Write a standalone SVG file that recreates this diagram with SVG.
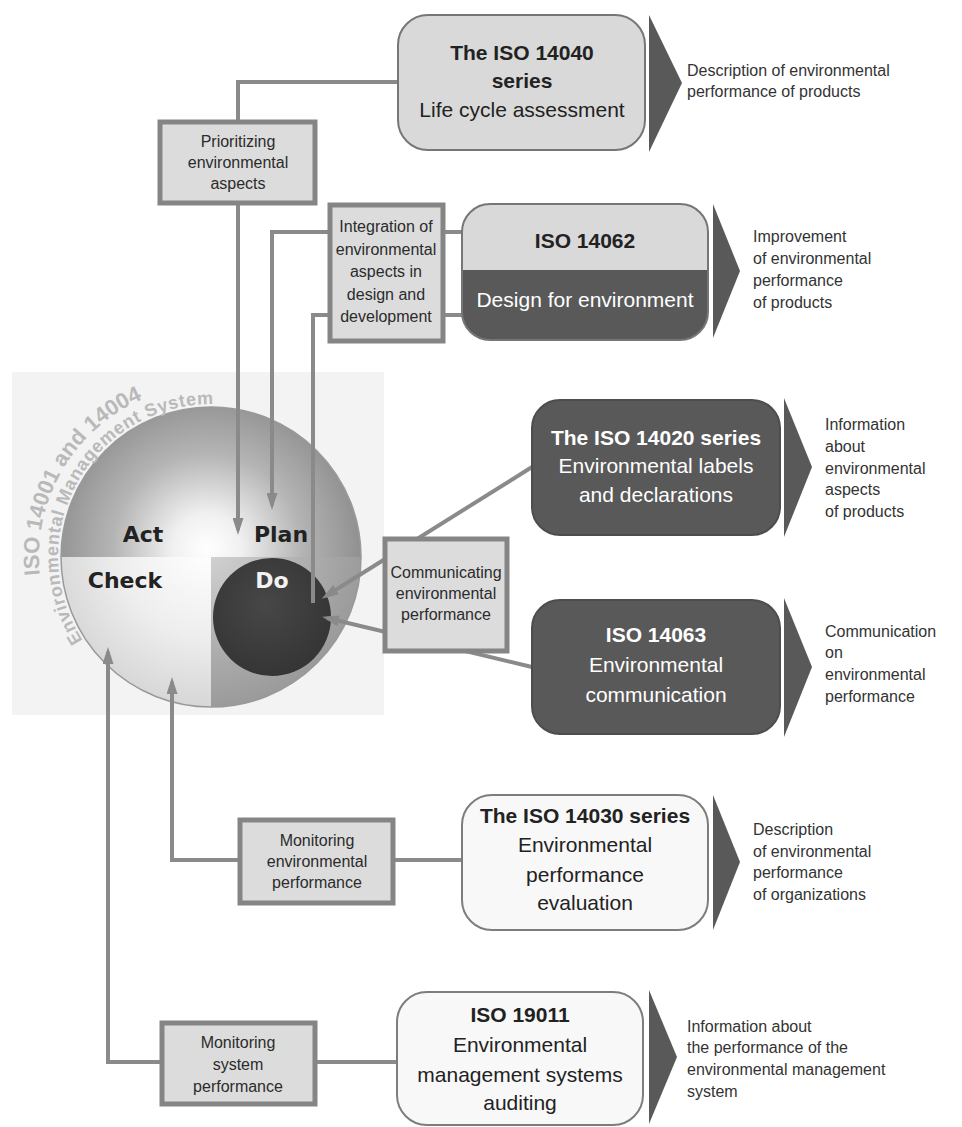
<svg xmlns="http://www.w3.org/2000/svg" width="962" height="1127" viewBox="0 0 962 1127">
<defs>
<style>
.t{font-family:"Liberation Sans",Arial,Helvetica,sans-serif}
.sm{font-size:16px;fill:#2b2b2b;text-anchor:middle}
.big{font-size:21px;fill:#222;text-anchor:middle}
.b{font-weight:bold}
.w{fill:#fff}
.desc{font-size:16px;fill:#333}
.sbox{fill:#dcdcdc;stroke:#858585;stroke-width:5}
.conn{fill:none;stroke:#8a8a8a;stroke-width:4}
.chev{fill:#595959}
.lbox{fill:#d9d9d9;stroke:#767676;stroke-width:2}
.dbox{fill:#595959;stroke:#4d4d4d;stroke-width:2}
.wbox{fill:#f8f8f8;stroke:#7d7d7d;stroke-width:2}
.pdca{font-family:"DejaVu Sans",Verdana,sans-serif;font-weight:bold;font-size:22px;text-anchor:middle}
.arc{font-family:"Liberation Sans",Arial,sans-serif;font-weight:bold;fill:#b9b9b9}
</style>
<marker id="ah" markerUnits="userSpaceOnUse" markerWidth="17" markerHeight="11" refX="12" refY="5.5" orient="auto">
<path d="M0,0 L17,5.5 L0,11 z" fill="#8a8a8a"/>
</marker>
<radialGradient id="gTop" gradientUnits="userSpaceOnUse" cx="207" cy="548" r="158">
<stop offset="0" stop-color="#ffffff"/>
<stop offset="0.22" stop-color="#f0f0f0"/>
<stop offset="0.6" stop-color="#b4b4b4"/>
<stop offset="1" stop-color="#8e8e8e"/>
</radialGradient>
<radialGradient id="gBL" gradientUnits="userSpaceOnUse" cx="207" cy="548" r="160">
<stop offset="0" stop-color="#ffffff"/>
<stop offset="0.55" stop-color="#eeeeee"/>
<stop offset="1" stop-color="#d6d6d6"/>
</radialGradient>
<radialGradient id="gBR" gradientUnits="userSpaceOnUse" cx="207" cy="548" r="160">
<stop offset="0" stop-color="#d4d4d4"/>
<stop offset="0.6" stop-color="#b0b0b0"/>
<stop offset="1" stop-color="#9a9a9a"/>
</radialGradient>
<radialGradient id="gDo" cx="0.45" cy="0.4" r="0.6">
<stop offset="0" stop-color="#474747"/>
<stop offset="1" stop-color="#353535"/>
</radialGradient>
<clipPath id="c62"><rect x="462" y="204" width="246" height="136" rx="28"/></clipPath>
<path id="arcOuter" d="M39.9,575 A172,172 0 0 1 297,408"/>
<path id="arcInner" d="M82.7,640.3 A153,153 0 0 1 287.5,424.5"/>
</defs>

<rect x="0" y="0" width="962" height="1127" fill="#ffffff"/>

<g id="pdca-circle">
<rect x="12" y="372" width="372" height="343" fill="#f3f3f3"/>
<path d="M211,557 L61,557 A150,150 0 0 1 211,407 Z" fill="url(#gTop)"/>
<path d="M211,557 L211,407 A150,150 0 0 1 361,557 Z" fill="url(#gTop)"/>
<path d="M211,557 L211,707 A150,150 0 0 1 61,557 Z" fill="url(#gBL)"/>
<path d="M211,557 L361,557 A150,150 0 0 1 211,707 Z" fill="url(#gBR)"/>
<circle cx="211" cy="557" r="150" fill="none" stroke="#999" stroke-width="1.5"/>
<circle cx="272" cy="617" r="59" fill="url(#gDo)"/>
<text class="pdca" x="143" y="542" fill="#222">Act</text>
<text class="pdca" x="281" y="542" fill="#222">Plan</text>
<text class="pdca" x="125" y="588" fill="#222">Check</text>
<text class="pdca" x="272" y="588" fill="#f2f2f2">Do</text>
<text class="arc" font-size="22"><textPath href="#arcOuter">ISO 14001 and 14004</textPath></text>
<text class="arc" font-size="18" letter-spacing="0.7"><textPath href="#arcInner">Environmental Management System</textPath></text>
</g>

<g id="connectors">
<path class="conn" d="M238,122 V82 H398"/>
<path class="conn" d="M238,203 V530" marker-end="url(#ah)"/>
<path class="conn" d="M330,232 H272 V505" marker-end="url(#ah)"/>
<path class="conn" d="M330,315 H313 V603"/>
<path class="conn" d="M444,232 H462"/>
<path class="conn" d="M444,315 H462"/>
<path class="conn" d="M532,467 L326,596" marker-end="url(#ah)"/>
<path class="conn" d="M532,667 L327,618" marker-end="url(#ah)"/>
<path class="conn" d="M240,860 H172 V682" marker-end="url(#ah)"/>
<path class="conn" d="M393,860 H462"/>
<path class="conn" d="M162,1062 H108 V652" marker-end="url(#ah)"/>
<path class="conn" d="M315,1062 H397"/>
</g>

<g id="prioritizing">
<rect class="sbox" x="160" y="122" width="155" height="81"/>
<text class="t sm" x="238" y="147">Prioritizing</text>
<text class="t sm" x="238" y="168">environmental</text>
<text class="t sm" x="238" y="189">aspects</text>
</g>

<g id="integration">
<rect class="sbox" x="330" y="205" width="113" height="136"/>
<text class="t sm" x="386" y="232" font-size="15.5">Integration of</text>
<text class="t sm" x="386" y="255" font-size="15.5">environmental</text>
<text class="t sm" x="386" y="277" font-size="15.5">aspects in</text>
<text class="t sm" x="386" y="300" font-size="15.5">design and</text>
<text class="t sm" x="386" y="322" font-size="15.5">development</text>
</g>

<g id="communicating">
<rect class="sbox" x="385" y="539" width="122" height="112"/>
<text class="t sm" x="446" y="578">Communicating</text>
<text class="t sm" x="446" y="599">environmental</text>
<text class="t sm" x="446" y="620">performance</text>
</g>

<g id="monitoring-env">
<rect class="sbox" x="240" y="820" width="153" height="83"/>
<text class="t sm" x="317" y="846">Monitoring</text>
<text class="t sm" x="317" y="867">environmental</text>
<text class="t sm" x="317" y="888">performance</text>
</g>

<g id="monitoring-sys">
<rect class="sbox" x="162" y="1023" width="153" height="81"/>
<text class="t sm" x="238" y="1048">Monitoring</text>
<text class="t sm" x="238" y="1070">system</text>
<text class="t sm" x="238" y="1092">performance</text>
</g>

<g id="iso14040">
<rect class="lbox" x="398" y="15" width="247" height="135" rx="30"/>
<text class="t big b" x="522" y="60">The ISO 14040</text>
<text class="t big b" x="522" y="88">series</text>
<text class="t big" x="522" y="117">Life cycle assessment</text>
<polygon class="chev" points="649,15 682,83 649,152"/>
<text class="t desc" x="687" y="76">Description of environmental</text>
<text class="t desc" x="687" y="97">performance of products</text>
</g>

<g id="iso14062">
<g clip-path="url(#c62)">
<rect x="462" y="204" width="246" height="66" fill="#d9d9d9"/>
<rect x="462" y="270" width="246" height="70" fill="#595959"/>
</g>
<rect x="462" y="204" width="246" height="136" rx="28" fill="none" stroke="#767676" stroke-width="2"/>
<text class="t big b" x="585" y="248">ISO 14062</text>
<text class="t big w" x="585" y="307">Design for environment</text>
<polygon class="chev" points="713,204 740,271 713,338"/>
<text class="t desc" x="753" y="242">Improvement</text>
<text class="t desc" x="753" y="264">of environmental</text>
<text class="t desc" x="753" y="286">performance</text>
<text class="t desc" x="753" y="308">of products</text>
</g>

<g id="iso14020">
<rect class="dbox" x="532" y="400" width="248" height="135" rx="28"/>
<text class="t big b w" x="656" y="445">The ISO 14020 series</text>
<text class="t big w" x="656" y="473">Environmental labels</text>
<text class="t big w" x="656" y="502">and declarations</text>
<polygon class="chev" points="784,398 812,467 784,537"/>
<text class="t desc" x="825" y="430">Information</text>
<text class="t desc" x="825" y="452">about</text>
<text class="t desc" x="825" y="474">environmental</text>
<text class="t desc" x="825" y="495">aspects</text>
<text class="t desc" x="825" y="517">of products</text>
</g>

<g id="iso14063">
<rect class="dbox" x="532" y="600" width="248" height="134" rx="28"/>
<text class="t big b w" x="656" y="642">ISO 14063</text>
<text class="t big w" x="656" y="672">Environmental</text>
<text class="t big w" x="656" y="702">communication</text>
<polygon class="chev" points="784,598 812,667 784,737"/>
<text class="t desc" x="825" y="637">Communication</text>
<text class="t desc" x="825" y="658">on</text>
<text class="t desc" x="825" y="680">environmental</text>
<text class="t desc" x="825" y="702">performance</text>
</g>

<g id="iso14030">
<rect class="wbox" x="462" y="795" width="246" height="135" rx="30"/>
<text class="t big b" x="585" y="823">The ISO 14030 series</text>
<text class="t big" x="585" y="852">Environmental</text>
<text class="t big" x="585" y="882">performance</text>
<text class="t big" x="585" y="910">evaluation</text>
<polygon class="chev" points="713,795 740,862 713,930"/>
<text class="t desc" x="753" y="835">Description</text>
<text class="t desc" x="753" y="857">of environmental</text>
<text class="t desc" x="753" y="878">performance</text>
<text class="t desc" x="753" y="900">of organizations</text>
</g>

<g id="iso19011">
<rect class="wbox" x="397" y="992" width="246" height="133" rx="30"/>
<text class="t big b" x="520" y="1022">ISO 19011</text>
<text class="t big" x="520" y="1052">Environmental</text>
<text class="t big" x="520" y="1082">management systems</text>
<text class="t big" x="520" y="1110">auditing</text>
<polygon class="chev" points="649,990 677,1057 649,1124"/>
<text class="t desc" x="687" y="1032">Information about</text>
<text class="t desc" x="687" y="1053">the performance of the</text>
<text class="t desc" x="687" y="1075">environmental management</text>
<text class="t desc" x="687" y="1097">system</text>
</g>
</svg>
